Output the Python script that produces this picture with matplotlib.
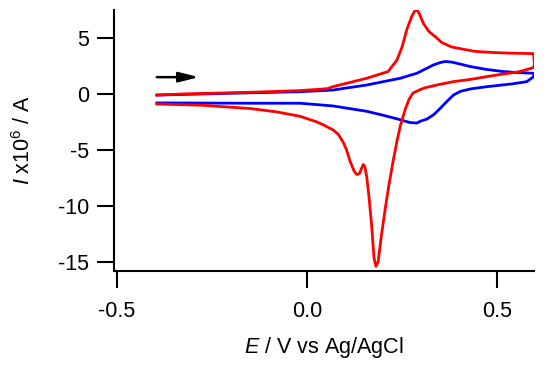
import matplotlib
matplotlib.use("Agg")
import matplotlib.pyplot as plt

plt.rcParams['font.family'] = ['Liberation Sans', 'DejaVu Sans']
plt.rcParams['mathtext.fontset'] = 'custom'
plt.rcParams['mathtext.rm'] = 'Liberation Sans'
plt.rcParams['mathtext.it'] = 'Liberation Sans:italic'

# red CV: forward (upper) then reverse (lower)
red_e = [-0.395, -0.326, -0.15, -0.018, 0.053, 0.068, 0.157, 0.213, 0.236, 0.25,
         0.262, 0.275, 0.283, 0.289, 0.295, 0.306, 0.32, 0.341, 0.354, 0.38,
         0.41, 0.442, 0.49, 0.53, 0.596, 0.598, 0.595, 0.575, 0.56, 0.52,
         0.473, 0.43, 0.385, 0.345, 0.31, 0.297, 0.279, 0.268, 0.258, 0.245,
         0.236, 0.227, 0.215, 0.205, 0.195, 0.187, 0.181, 0.176, 0.17, 0.163,
         0.157, 0.152, 0.148, 0.144, 0.138, 0.131, 0.124, 0.113, 0.104, 0.095,
         0.082, 0.068, 0.045, 0.026, -0.018, -0.08, -0.15, -0.28, -0.395]
red_i = [-0.1, 0.0, 0.15, 0.3, 0.47, 0.65, 1.4, 2.0, 3.0, 4.2,
         5.7, 6.9, 7.4, 7.5, 7.2, 6.3, 5.6, 5.0, 4.6, 4.2,
         4.0, 3.8, 3.7, 3.65, 3.6, 2.6, 2.35, 2.15, 2.0, 1.8,
         1.55, 1.3, 1.1, 0.83, 0.55, 0.38, 0.09, -0.5, -1.4, -2.9,
         -4.3, -5.9, -8.2, -10.4, -12.8, -15.0, -15.4, -14.6, -11.8, -9.2,
         -7.4, -6.5, -6.3, -6.6, -7.1, -7.2, -6.9, -6.0, -5.0, -4.3,
         -3.6, -3.2, -2.8, -2.5, -2.0, -1.6, -1.3, -1.0, -0.9]

# blue CV
blue_e = [-0.395, -0.15, -0.018, 0.068, 0.157, 0.245, 0.289, 0.333, 0.35, 0.363,
          0.38, 0.405, 0.429, 0.47, 0.516, 0.56, 0.595, 0.598, 0.594, 0.578,
          0.54, 0.473, 0.43, 0.403, 0.385, 0.368, 0.35, 0.333, 0.315, 0.297,
          0.289, 0.27, 0.245, 0.2, 0.157, 0.068, -0.018, -0.15, -0.395]
blue_i = [-0.1, 0.1, 0.2, 0.35, 0.8, 1.4, 1.85, 2.6, 2.8, 2.9,
          2.85, 2.65, 2.45, 2.2, 2.0, 1.9, 1.85, 1.7, 1.5, 1.1,
          0.9, 0.65, 0.45, 0.23, -0.1, -0.66, -1.3, -1.85, -2.25, -2.45,
          -2.6, -2.55, -2.3, -1.9, -1.55, -1.07, -0.83, -0.83, -0.8]

fig = plt.figure(figsize=(5.5, 3.7), dpi=100)
ax = fig.add_axes([0.207, 0.268, 0.764, 0.705])

ax.plot(blue_e, blue_i, color='#0000ff', lw=2)
ax.plot(red_e, red_i, color='#ff0000', lw=2)

ax.annotate('', xy=(-0.284, 1.5), xytext=(-0.395, 1.5),
            arrowprops=dict(arrowstyle='-|>,head_length=1.2,head_width=0.3',
                            color='black', lw=1.8, shrinkA=0, shrinkB=0))

ax.set_xlim(-0.508, 0.597)
ax.set_ylim(-15.8, 7.5)
ax.set_xticks([-0.5, 0.0, 0.5])
ax.set_xticklabels(['-0.5', '0.0', '0.5'])
ax.set_yticks([5, 0, -5, -10, -15])
ax.set_yticklabels(['5', '0', '-5', '-10', '-15'])

for s in ['top', 'right']:
    ax.spines[s].set_visible(False)
for s in ['left', 'bottom']:
    ax.spines[s].set_linewidth(1.5)
ax.tick_params(direction='out', length=12, width=1.5, labelsize=15.5)
ax.tick_params(axis='x', pad=10)
ax.tick_params(axis='y', pad=6)

ax.set_xlabel(r'$E$ / V vs Ag/AgCl', fontsize=15.5, labelpad=9)
ax.set_ylabel(r'$I$ x10$^{6}$ / A', fontsize=15.5, labelpad=16)

fig.savefig('out.png', dpi=100)
